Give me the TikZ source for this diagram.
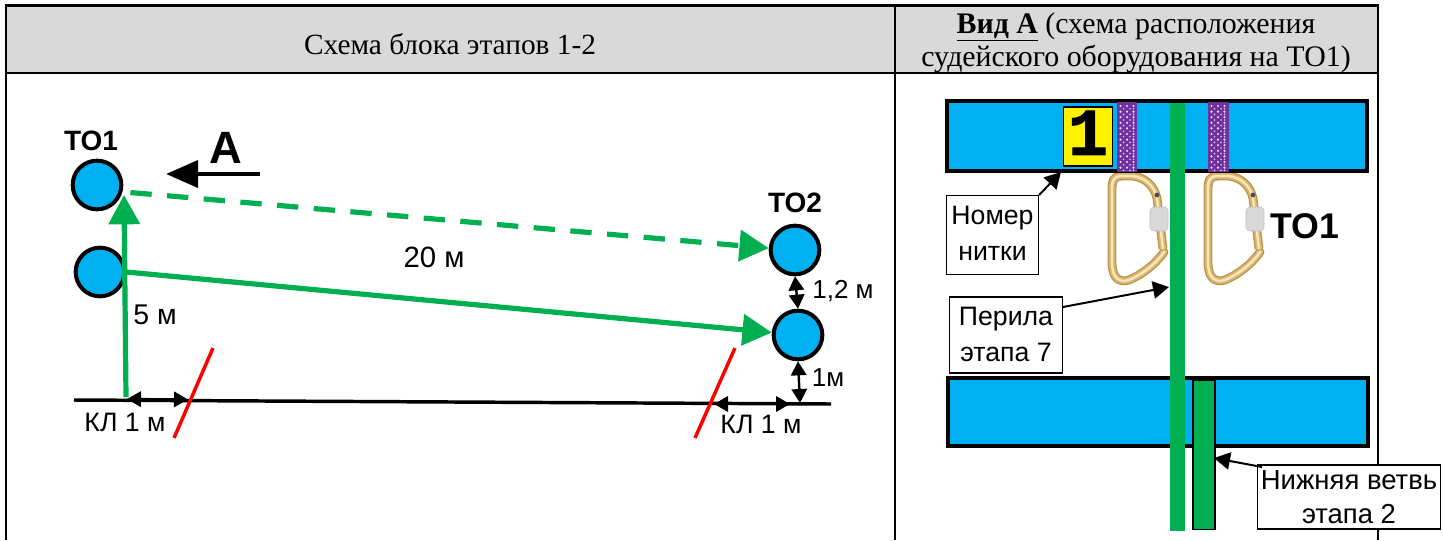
\documentclass[tikz,border=0pt]{standalone}
\usepackage{fontspec}
\setmainfont{Liberation Serif}
\setsansfont{Liberation Sans}
\newfontfamily\digitfont[FakeBold=1.5]{Liberation Mono}
\usetikzlibrary{arrows.meta}
\definecolor{rgreen}{HTML}{00B050}
\definecolor{rblue}{HTML}{00B0F0}
\definecolor{hgray}{HTML}{D9D9D9}
\definecolor{gold}{HTML}{B8924E}
\definecolor{goldmid}{HTML}{DDB76E}
\definecolor{goldhi}{HTML}{F6E7BE}
\definecolor{strap}{HTML}{7030A0}
\tikzset{
  px/.style={x=0.75pt,y=-0.75pt},
  post/.style={circle,draw=black,fill=rblue,line width=3pt,minimum size=36.5pt,inner sep=0pt},
  greenarrow/.style={draw=rgreen,line width=3.9pt,-{Triangle[length=22pt,width=23pt]}},
  thinarrow/.style={draw=black,line width=1.8pt,{Triangle[length=10.5pt,width=11.5pt]}-{Triangle[length=10.5pt,width=11.5pt]}},
  leader/.style={draw=black,line width=1.5pt,-{Triangle[length=12pt,width=13pt]}},
  redline/.style={draw=red,line width=2.6pt},
  label/.style={font=\sffamily\fontsize{20}{24}\selectfont,inner sep=0pt},
  boldlabel/.style={font=\sffamily\bfseries\fontsize{21}{25}\selectfont,inner sep=0pt},
  callout/.style={draw=black,fill=white,line width=1pt,align=center,inner sep=0pt,font=\sffamily\fontsize{20}{27}\selectfont},
  head/.style={font=\rmfamily\fontsize{22}{25}\selectfont,align=center,inner sep=0pt},
  bar/.style={draw=black,fill=rblue,line width=3.2pt},
  rule/.style={draw=black,line width=1.6pt},
}
\newcommand{\liftup}[2]{\raisebox{#1}{#2}}
\newcommand{\carabiner}[1]{%
  \begin{scope}[shift={(#1,0)}]
    \foreach \w/\c in {6.6pt/gold,4.6pt/goldmid,1.8pt/goldhi}{
      \draw[draw=\c,line width=\w,line join=round,line cap=round]
        (1122,176) .. controls (1113,176) and (1112,181) .. (1112,190) -- (1112,262)
        .. controls (1112,278) and (1119,283) .. (1129,280)
        .. controls (1141,275) and (1155,265) .. (1164,252);
      \draw[draw=\c,line width=\w,line cap=round]
        (1122,176) -- (1133,176) .. controls (1146,178) and (1154,186) .. (1157,198);
      \draw[draw=\c,line width=\w] (1157,198) -- (1163,249);
    }
    \fill[gray!60!black] (1157,195) circle (1.8pt);
    \fill[hgray,draw=gray!50,line width=.4pt,rounded corners=3pt] (1150,207) rectangle (1168,231);
  \end{scope}}
\begin{document}
\begin{tikzpicture}[px]
\useasboundingbox (0,0) rectangle (1443,540);
% table
\fill[hgray] (6,6) rectangle (1378,73);
\draw[rule] (6,540) -- (6,5.5) -- (1378,5.5) -- (1378,540);
\draw[rule] (5,73) -- (1378,73);
\draw[rule] (895,5) -- (895,540);
\node[head] (h1) at (450,44) {Схема блока этапов 1-2};
\node[head,font=\rmfamily\fontsize{22.4}{25}\selectfont] (h2) at (1136,43) {\underline{\textbf{Вид А}} (схема расположения\\судейского оборудования на ТО1)};
% left scheme
\coordinate (g1) at (74,400);
\coordinate (g2) at (831,404);
\draw[draw=black,line width=2.6pt] (g1) -- (g2);
\node[post] (c1) at (97,185) {};
\node[post] (c2) at (100,272) {};
\node[post] (c3) at (795,250) {};
\node[post] (c4) at (798,335) {};
\coordinate (v0) at (126,397);
\coordinate (v1) at (124,195);
\draw[greenarrow] (v0) -- (v1);
\draw[greenarrow] (c2.east) -- (c4);
\draw[greenarrow,dash pattern=on 16pt off 11.6pt,shorten <=6pt] (c1.-15) -- (c3.176);
% direction A
\coordinate (a0) at (260,174);
\coordinate (a1) at (166,174);
\draw[draw=black,line width=3.6pt,-{Triangle[length=24pt,width=20pt]}] (a0) -- (a1);
\node[font=\sffamily\bfseries\fontsize{34}{38}\selectfont,inner sep=0pt] (A) at (226,148) {А};
\node[boldlabel] (t1) at (91,141) {ТО1};
\node[boldlabel] (t2) at (795,203) {ТО2};
\node[label,font=\sffamily\fontsize{22}{26}\selectfont] (d20) at (434,257) {20 м};
\node[label,font=\sffamily\fontsize{21.4}{26}\selectfont] (d5) at (155,315) {5 м};
\node[label,font=\sffamily\fontsize{19.5}{24}\selectfont] (d12) at (843,291) {1,2 м};
\node[label,font=\sffamily\fontsize{19.5}{24}\selectfont] (d1) at (828,378) {1м};
\node[label] (k1) at (125,422) {КЛ 1 м};
\node[label] (k2) at (761,424) {КЛ 1 м};
% red lines
\coordinate (r1a) at (213,348); \coordinate (r1b) at (174,438);
\coordinate (r2a) at (735,348); \coordinate (r2b) at (695,438);
\draw[redline] (r1a) -- (r1b);
\draw[redline] (r2a) -- (r2b);
% dimension arrows
\coordinate (p1) at (127,399); \coordinate (p2) at (188,399.5);
\coordinate (p3) at (714,404); \coordinate (p4) at (790,404);
\coordinate (p5) at (800,403);
\draw[thinarrow] (p1) -- (p2);
\draw[thinarrow] (p3) -- (p4);
\draw[thinarrow] (c3.south) -- (c4.north);
\draw[thinarrow] (c4.south) -- (p5);
% right: view A
\carabiner{0}
\carabiner{96}
\node[bar,minimum width=315pt,minimum height=52pt,inner sep=0pt] (b1) at (1157,136) {};
\node[bar,minimum width=315pt,minimum height=51pt,inner sep=0pt] (b2) at (1158,412) {};
\fill[strap] (1117,102) rectangle (1137,172);
\fill[strap] (1208,102) rectangle (1229,172);
\foreach \x in {0,1}{
  \foreach \n in {0,...,11}{
    \foreach \m in {0,1,2}{
      \fill[white!85!strap] ({1120.5+91*\x+\m*6.5},{106+\n*5.6}) circle (0.9pt);
      \fill[white!70!strap] ({1123.5+91*\x+\m*6.5-3*(\m==2)},{108.8+\n*5.6}) circle (0.7pt);
    }
  }
}
\node[draw=black,fill=yellow,line width=1.2pt,minimum width=37pt,minimum height=44.5pt,inner sep=0pt,
      font=\digitfont\bfseries\fontsize{50}{50}\selectfont] (num) at (1088,136.5) {\liftup{5.5pt}{1}};
\coordinate (r0) at (1177.5,103); \coordinate (r9) at (1177.5,531);
\draw[draw=rgreen,line width=11.5pt] (r0) -- (r9);
\node[draw=black,fill=rgreen,line width=1pt,minimum width=16.5pt,minimum height=112pt,inner sep=0pt] (low) at (1204,455) {};
\node[font=\sffamily\bfseries\fontsize{26.8}{30}\selectfont,inner sep=0pt] (t3) at (1305,226) {ТО1};
\node[callout,minimum width=69pt,minimum height=59pt] (n1) at (992.5,235) {\liftup{3pt}{Номер}\\\liftup{3pt}{нитки}};
\node[callout,minimum width=85pt,minimum height=57pt] (n2) at (1006,335) {\liftup{1pt}{Перила}\\\liftup{1pt}{этапа 7}};
\node[callout,font=\sffamily\fontsize{20.6}{25.5}\selectfont,minimum width=137pt,minimum height=48pt] (n3) at (1349,497) {\liftup{-1.5pt}{Нижняя ветвь}\\\liftup{-1.5pt}{этапа 2}};
\coordinate (q1) at (1061,172); \coordinate (q2) at (1169,287); \coordinate (q3) at (1214,458);
\coordinate (s2) at (1063,307); \coordinate (s3) at (1262,467);
\draw[leader] (n1.north east) -- (q1);
\draw[leader] (s2) -- (q2);
\draw[leader] (s3) -- (q3);
\end{tikzpicture}
\end{document}
